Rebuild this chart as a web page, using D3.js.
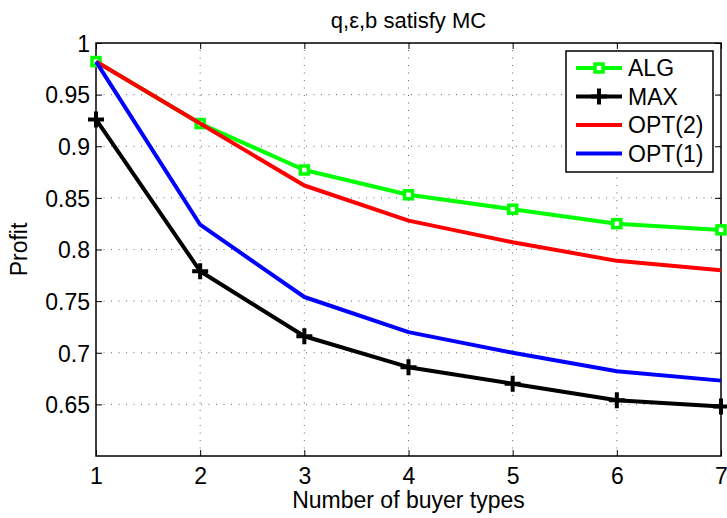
<!DOCTYPE html>
<html>
<head>
<meta charset="utf-8">
<script src="https://cdn.jsdelivr.net/npm/d3@7/dist/d3.min.js"></script>
<style>
	body { margin: 0; background: #fff; }
	svg text { font-family: "Liberation Sans", Arial, sans-serif; fill: #000; }
</style>
</head>
<body>
<svg id="chart" width="727" height="518"></svg>
<script>
// values
var buyerTypes = [1, 2, 3, 4, 5, 6, 7];
var algValues = [0.982, 0.922, 0.877, 0.853, 0.839, 0.825, 0.819];
var maxValues = [0.926, 0.779, 0.716, 0.686, 0.670, 0.654, 0.648];
var opt2Values = [0.982, 0.922, 0.862, 0.828, 0.807, 0.789, 0.780];
var opt1Values = [0.982, 0.824, 0.754, 0.720, 0.700, 0.682, 0.673];
var yTicks = [0.65, 0.7, 0.75, 0.8, 0.85, 0.9, 0.95, 1];
var yTickLabels = ["0.65", "0.7", "0.75", "0.8", "0.85", "0.9", "0.95", "1"];
var seriesNames = ["ALG", "MAX", "OPT(2)", "OPT(1)"];

var series = [
	{ "name": seriesNames[0], "values": algValues, "color": "#00ff00", "marker": "square" },
	{ "name": seriesNames[1], "values": maxValues, "color": "#000000", "marker": "plus" },
	{ "name": seriesNames[2], "values": opt2Values, "color": "#ff0000", "marker": "none" },
	{ "name": seriesNames[3], "values": opt1Values, "color": "#0000ff", "marker": "none" }
];

var svg = d3.select("#chart"),
	margin = { top: 43, left: 96, right: 6, bottom: 62 },
	width = +svg.attr("width"),
	height = +svg.attr("height");

var x = d3.scaleLinear()
	.domain([1, 7])
	.range([margin.left, width - margin.right]);
var y = d3.scaleLinear()
	.domain([0.6, 1])
	.range([height - margin.bottom, margin.top]);

var x0 = x.range()[0], x1 = x.range()[1],
	y0 = y.range()[0], y1 = y.range()[1];

// dotted grid
var g_grid = svg.append("g").attr("class", "grid");
g_grid.selectAll("line.gx").data(buyerTypes.slice(1, -1)).enter()
	.append("line")
	.attr("x1", function(d) { return x(d); })
	.attr("x2", function(d) { return x(d); })
	.attr("y1", y0).attr("y2", y1)
	.attr("stroke", "#666").attr("stroke-width", 1)
	.attr("stroke-dasharray", "1,6.5");
g_grid.selectAll("line.gy").data(yTicks.slice(0, -1)).enter()
	.append("line")
	.attr("y1", function(d) { return y(d); })
	.attr("y2", function(d) { return y(d); })
	.attr("x1", x0).attr("x2", x1)
	.attr("stroke", "#666").attr("stroke-width", 1)
	.attr("stroke-dasharray", "1,6.5");

// axes with inward ticks
var xAxis = d3.axisBottom(x).tickValues(buyerTypes).tickSize(-6).tickPadding(12)
	.tickFormat(d3.format("d"));
var yAxis = d3.axisLeft(y).tickValues(yTicks).tickSize(-6).tickPadding(6)
	.tickFormat(function(d, i) { return yTickLabels[i]; });

var gx = svg.append("g").attr("transform", "translate(0," + y0 + ")").call(xAxis);
var gy = svg.append("g").attr("transform", "translate(" + x0 + ",0)").call(yAxis);
svg.append("g").attr("transform", "translate(0," + y1 + ")")
	.call(d3.axisTop(x).tickValues(buyerTypes).tickSize(-6).tickFormat(""));
svg.append("g").attr("transform", "translate(" + x1 + ",0)")
	.call(d3.axisRight(y).tickValues(yTicks).tickSize(-6).tickFormat(""));

svg.selectAll(".domain").remove();
svg.selectAll(".tick line").attr("stroke", "#000").attr("stroke-width", 1);
gx.selectAll("text").style("font-size", "23px");
gy.selectAll("text").style("font-size", "23px").attr("dy", "0.36em");

svg.append("rect")
	.attr("x", x0).attr("y", y1)
	.attr("width", x1 - x0).attr("height", y0 - y1)
	.attr("fill", "none").attr("stroke", "#000").attr("stroke-width", 1.5);

// series lines
var line = d3.line()
	.x(function(d, i) { return x(buyerTypes[i]); })
	.y(function(d) { return y(d); });

var g_line = svg.append("g").attr("class", "lines");

function drawMarker(g, type, cx, cy, color) {
	if (type == "square") {
		g.append("rect")
			.attr("x", cx - 4).attr("y", cy - 4)
			.attr("width", 8).attr("height", 8)
			.attr("fill", "#fff").attr("stroke", color).attr("stroke-width", 3.5);
	} else if (type == "plus") {
		g.append("path")
			.attr("d", "M" + (cx - 8) + "," + cy + "H" + (cx + 8) + "M" + cx + "," + (cy - 8) + "V" + (cy + 8))
			.attr("stroke", color).attr("stroke-width", 4).attr("fill", "none");
	}
}

series.forEach(function(s) {
	var g = g_line.append("g");
	g.append("path")
		.attr("d", line(s.values))
		.attr("fill", "none")
		.attr("stroke", s.color)
		.attr("stroke-width", 4)
		.attr("stroke-linejoin", "round");
	s.values.forEach(function(v, i) {
		drawMarker(g, s.marker, x(buyerTypes[i]), y(v), s.color);
	});
});

// legend
var legend = svg.append("g").attr("class", "legend");
legend.append("rect")
	.attr("x", 566).attr("y", 51)
	.attr("width", 147).attr("height", 121)
	.attr("fill", "#fff").attr("stroke", "#000").attr("stroke-width", 1.5);
series.forEach(function(s, i) {
	var ly = 68 + i * 28.5;
	legend.append("line")
		.attr("x1", 576).attr("x2", 622)
		.attr("y1", ly).attr("y2", ly)
		.attr("stroke", s.color).attr("stroke-width", 4);
	drawMarker(legend, s.marker, 599, ly, s.color);
	legend.append("text")
		.attr("x", 628).attr("y", ly)
		.attr("dy", "0.36em")
		.style("font-size", "23px")
		.text(s.name);
});

// labels
svg.append("text")
	.attr("x", (x0 + x1) / 2).attr("y", 28)
	.attr("text-anchor", "middle")
	.style("font-size", "22px")
	.text("q,\u03b5,b satisfy MC");
svg.append("text")
	.attr("x", (x0 + x1) / 2).attr("y", 508)
	.attr("text-anchor", "middle")
	.style("font-size", "23px")
	.text("Number of buyer types");
svg.append("text")
	.attr("transform", "translate(27," + ((y0 + y1) / 2) + ") rotate(-90)")
	.attr("text-anchor", "middle")
	.style("font-size", "23px")
	.text("Profit");
</script>
</body>
</html>
